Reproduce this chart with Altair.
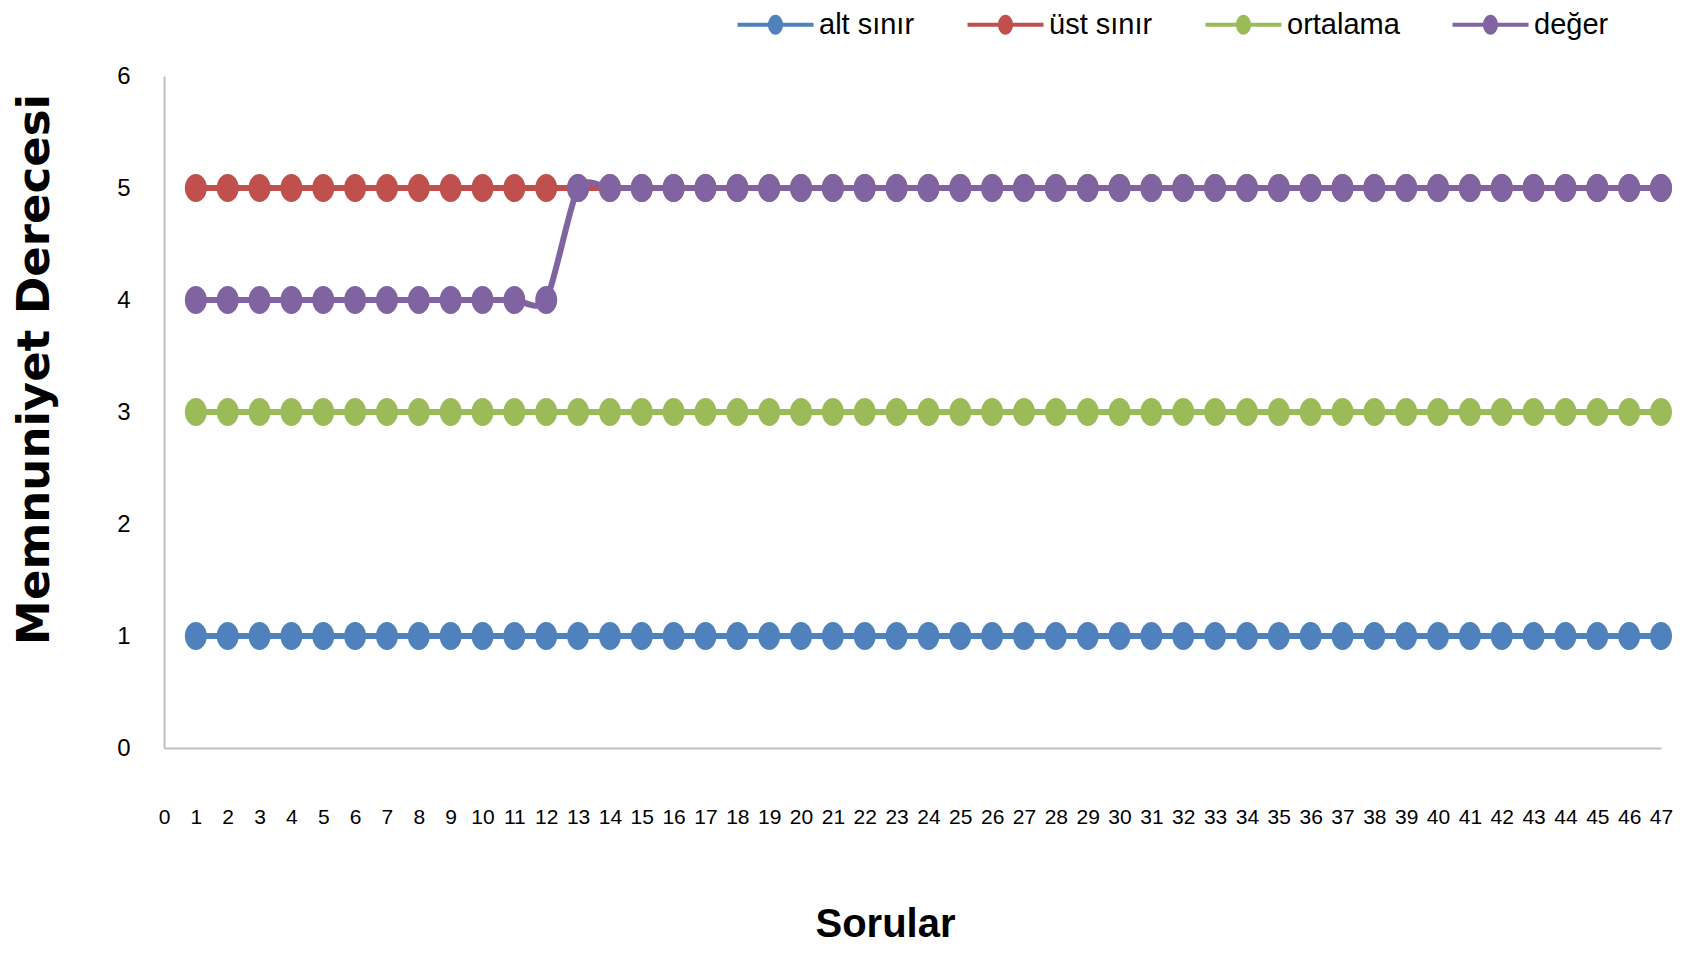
import altair as alt
import pandas as pd

questions = [1, 2, 3, 4, 5, 6, 7, 8, 9, 10, 11, 12, 13, 14, 15, 16, 17, 18, 19, 20,
             21, 22, 23, 24, 25, 26, 27, 28, 29, 30, 31, 32, 33, 34, 35, 36, 37, 38, 39, 40,
             41, 42, 43, 44, 45, 46, 47]
alt_sinir = [1, 1, 1, 1, 1, 1, 1, 1, 1, 1, 1, 1, 1, 1, 1, 1, 1, 1, 1, 1,
             1, 1, 1, 1, 1, 1, 1, 1, 1, 1, 1, 1, 1, 1, 1, 1, 1, 1, 1, 1,
             1, 1, 1, 1, 1, 1, 1]
ust_sinir = [5, 5, 5, 5, 5, 5, 5, 5, 5, 5, 5, 5, 5, 5, 5, 5, 5, 5, 5, 5,
             5, 5, 5, 5, 5, 5, 5, 5, 5, 5, 5, 5, 5, 5, 5, 5, 5, 5, 5, 5,
             5, 5, 5, 5, 5, 5, 5]
ortalama = [3, 3, 3, 3, 3, 3, 3, 3, 3, 3, 3, 3, 3, 3, 3, 3, 3, 3, 3, 3,
            3, 3, 3, 3, 3, 3, 3, 3, 3, 3, 3, 3, 3, 3, 3, 3, 3, 3, 3, 3,
            3, 3, 3, 3, 3, 3, 3]
deger = [4, 4, 4, 4, 4, 4, 4, 4, 4, 4, 4, 4, 5, 5, 5, 5, 5, 5, 5, 5,
         5, 5, 5, 5, 5, 5, 5, 5, 5, 5, 5, 5, 5, 5, 5, 5, 5, 5, 5, 5,
         5, 5, 5, 5, 5, 5, 5]

series_names = ["alt sınır", "üst sınır", "ortalama", "değer"]
series_ids = [0, 1, 2, 3]
series_colors = ["#4F81BD", "#C0504D", "#9BBB59", "#8064A2"]
x_ticks = [0, 1, 2, 3, 4, 5, 6, 7, 8, 9, 10, 11, 12, 13, 14, 15, 16, 17, 18, 19, 20, 21, 22, 23,
           24, 25, 26, 27, 28, 29, 30, 31, 32, 33, 34, 35, 36, 37, 38, 39, 40, 41, 42, 43, 44,
           45, 46, 47]
y_ticks = [0, 1, 2, 3, 4, 5, 6]

rows = []
for si, name, vals in zip(series_ids, series_names, [alt_sinir, ust_sinir, ortalama, deger]):
    for q, v in zip(questions, vals):
        rows.append({"Soru": q, "Değer": v, "Seri": name, "sid": si})
df = pd.DataFrame(rows)

lab_font = "Liberation Sans"

ellipse = ("M0,-1 C0.434,-1 0.786,-0.552 0.786,0 C0.786,0.552 0.434,1 0,1 "
           "C-0.434,1 -0.786,0.552 -0.786,0 C-0.786,-0.552 -0.434,-1 0,-1 Z")
legend_sym = ("M-3.8,-0.2 L3.8,-0.2 L3.8,0.2 L-3.8,0.2 Z "
              "M0,-1 C0.414,-1 0.75,-0.552 0.75,0 C0.75,0.552 0.414,1 0,1 "
              "C-0.414,1 -0.75,0.552 -0.75,0 C-0.75,-0.552 -0.414,-1 0,-1 Z")

x_enc = alt.X("Soru:Q",
              scale=alt.Scale(domain=[0, 47], nice=False, zero=True),
              axis=alt.Axis(values=x_ticks, title="Sorular", grid=False, ticks=False, tickSize=0,
                            labelOverlap=False, labelFlush=False, labelFont=lab_font, labelFontSize=21,
                            labelColor="#000000", labelBaseline="middle", labelPadding=69,
                            domainColor="#BFBFBF", domainWidth=2,
                            titleFont=lab_font, titleFontSize=40, titleFontWeight="bold",
                            titleColor="#000000", titleX=721, titleY=176,
                            titleAlign="center", titleBaseline="middle"))
y_enc = alt.Y("Değer:Q",
              scale=alt.Scale(domain=[0, 6], nice=False),
              axis=alt.Axis(values=y_ticks, title="Memnuniyet Derecesi", grid=False, ticks=False,
                            tickSize=0, labelFont=lab_font, labelFontSize=24, labelColor="#000000",
                            labelPadding=34, domainColor="#BFBFBF", domainWidth=2,
                            titleFont="DejaVu Sans", titleFontSize=45, titleFontWeight="bold",
                            titleColor="#000000", titleAngle=270, titleX=-130, titleY=293,
                            titleAlign="center", titleBaseline="middle"))

lines = alt.Chart(df).mark_line(strokeWidth=6, interpolate="cardinal", tension=0.3).encode(
    x=x_enc, y=y_enc,
    stroke=alt.Stroke("sid:N", scale=alt.Scale(domain=series_ids, range=series_colors),
                      legend=None),
    detail="sid:N",
)

points = alt.Chart(df).mark_point(shape=ellipse, size=784, filled=True, opacity=1).encode(
    x=x_enc, y=y_enc,
    color=alt.Color("Seri:N", scale=alt.Scale(domain=series_names, range=series_colors),
                    legend=alt.Legend(orient="none", direction="horizontal",
                                      legendX=597, legendY=-66, symbolType=legend_sym,
                                      symbolSize=400, symbolStrokeWidth=0, symbolOpacity=1,
                                      labelFont=lab_font, labelFontSize=29, labelColor="#000000",
                                      labelOffset=29, columnPadding=52, labelLimit=400,
                                      padding=0)),
    order=alt.Order("sid:Q"),
)

chart = alt.layer(lines, points).properties(
    width=1497, height=672,
    background="#FFFFFF",
    autosize=alt.AutoSizeParams(type="none"),
    padding={"left": 156, "top": 68, "right": 20, "bottom": 196},
).configure_view(stroke=None).configure_legend(title=None)

chart.save("out.html", embed_options={"renderer": "svg", "actions": False})
